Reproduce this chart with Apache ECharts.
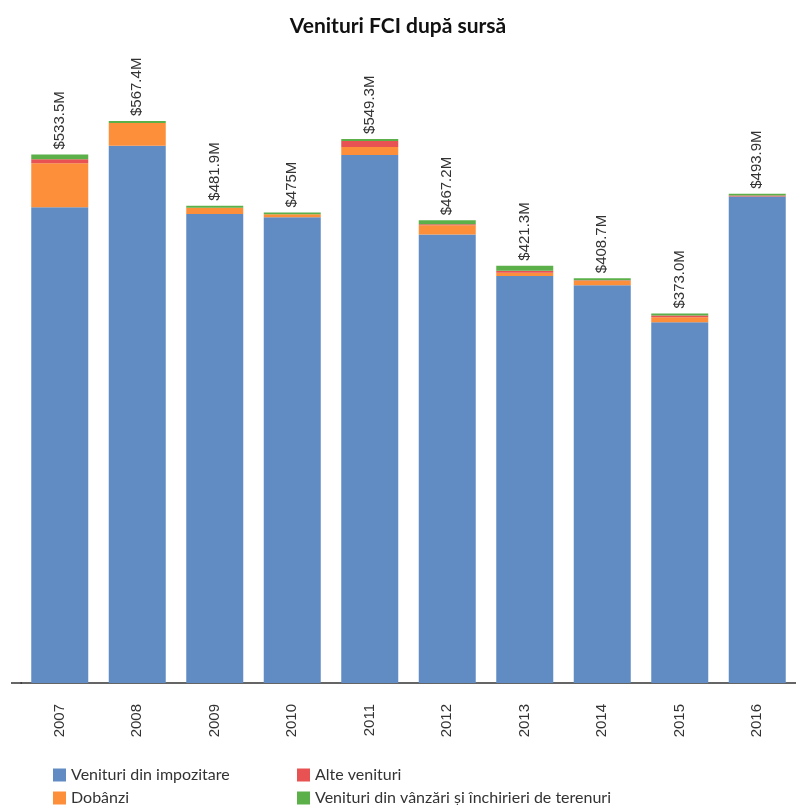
<!DOCTYPE html>
<html>
<head>
<meta charset="utf-8">
<script src="https://cdn.jsdelivr.net/npm/echarts@6/dist/echarts.min.js"></script>
<style>
  html, body { margin: 0; padding: 0; background: #fff; }
  #chart { width: 796px; height: 805px; }
</style>
</head>
<body>
<div id="chart"></div>
<script>
const years = ['2007', '2008', '2009', '2010', '2011', '2012', '2013', '2014', '2015', '2016'];
const taxes = [480.2, 542.5, 473.5, 470.3, 533.1, 452.8, 410.9, 401.6, 364.3, 491.2];
const interest = [44.5, 22.9, 6.4, 3.0, 8.1, 9.4, 3.4, 4.4, 5.0, 0];
const other = [4.1, 0, 0, 0, 6.1, 1.0, 2.0, 0.7, 1.7, 1.0];
const landSales = [4.7, 2.0, 2.0, 1.7, 2.0, 4.0, 5.0, 2.0, 2.0, 1.7];
const totals = ['$533.5M', '$567.4M', '$481.9M', '$475M', '$549.3M', '$467.2M', '$421.3M', '$408.7M', '$373.0M', '$493.9M'];

const names = ['Venituri din impozitare', 'Dobânzi', 'Alte venituri', 'Venituri din vânzări și închirieri de terenuri'];
const colors = ['#618cc3', '#fd8f3a', '#e85252', '#5bb04a'];

const myChart = echarts.init(document.getElementById('chart'));

const legendText = { fontFamily: 'Lato', fontSize: 16, color: '#333' };

function barSeries(name, data, withLabel) {
  const s = {
    name: name,
    type: 'bar',
    stack: 'total',
    barWidth: 57,
    data: data
  };
  if (withLabel) {
    s.label = {
      show: true,
      position: 'top',
      rotate: 90,
      align: 'left',
      verticalAlign: 'middle',
      distance: 5,
      fontFamily: 'Liberation Sans',
      fontSize: 15,
      color: '#333',
      formatter: (p) => totals[p.dataIndex]
    };
  }
  return s;
}

// two columns of legend, each stacked vertically
function legendColumn(left, items) {
  return {
    orient: 'vertical',
    left: left,
    top: 767,
    height: 60,
    padding: 0,
    icon: 'rect',
    itemWidth: 13,
    itemHeight: 13,
    itemGap: 7,
    textStyle: legendText,
    data: items
  };
}

const option = {
  color: colors,
  animation: false,
  title: {
    text: 'Venituri FCI după sursă',
    left: 'center',
    top: 11,
    textStyle: { fontFamily: 'Lato', fontWeight: 'bold', fontSize: 21, color: '#111' }
  },
  legend: [
    legendColumn(53, [names[0], names[1]]),
    legendColumn(297, [names[2], names[3]])
  ],
  grid: { left: 21, right: 0, top: 121, bottom: 122 },
  xAxis: {
    type: 'category',
    data: years,
    axisLine: { lineStyle: { color: '#333', width: 1.5 } },
    axisTick: { show: false },
    axisLabel: {
      rotate: 90,
      margin: 21,
      fontFamily: 'Liberation Sans',
      fontSize: 15,
      color: '#333'
    }
  },
  yAxis: {
    type: 'value',
    min: 0,
    max: 567.4,
    show: false
  },
  graphic: [
    {
      type: 'line',
      shape: { x1: 11, y1: 683, x2: 22, y2: 683 },
      style: { stroke: '#333', lineWidth: 1.5 }
    }
  ],
  series: [
    barSeries(names[0], taxes, false),
    barSeries(names[1], interest, false),
    barSeries(names[2], other, false),
    barSeries(names[3], landSales, true)
  ]
};

myChart.setOption(option);
</script>
</body>
</html>
